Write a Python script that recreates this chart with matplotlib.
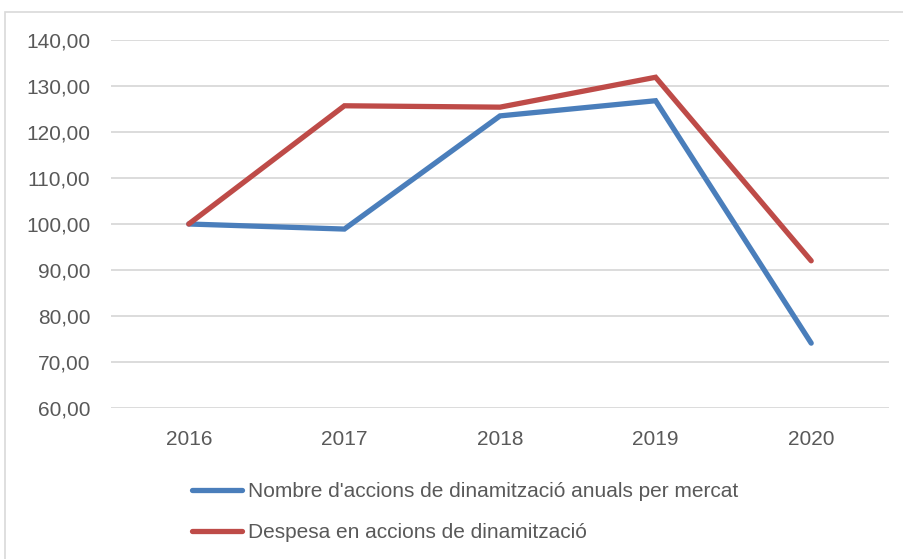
import matplotlib
matplotlib.use("Agg")
import matplotlib.pyplot as plt
from matplotlib.patches import Rectangle
from matplotlib.ticker import FuncFormatter

years = ["2016", "2017", "2018", "2019", "2020"]
accions = [100.0, 98.9, 123.5, 126.8, 74.1]
despesa = [100.0, 125.7, 125.4, 131.9, 92.0]
label_accions = "Nombre d'accions de dinamització anuals per mercat"
label_despesa = "Despesa en accions de dinamització"

W, H = 904, 559
fig = plt.figure(figsize=(W / 100, H / 100), dpi=100)
plt.rcParams['font.family'] = ['Liberation Sans', 'DejaVu Sans']
txt = '#595959'

# chart frame
fig.patches.append(Rectangle((5 / W, -0.1), 1.2, 1.1 - 12 / H, transform=fig.transFigure,
                             fill=False, edgecolor='#D9D9D9', linewidth=1.2))

ax = fig.add_axes([111 / W, 1 - 408 / H, (889 - 111) / W, (408 - 40) / H])
x = list(range(len(years)))
ax.plot(x, accions, color='#4A7EBB', lw=3.8, solid_capstyle='round', solid_joinstyle='miter',
        label=label_accions, zorder=3)
ax.plot(x, despesa, color='#BE4B48', lw=3.8, solid_capstyle='round', solid_joinstyle='miter',
        label=label_despesa, zorder=3)

ax.set_xlim(-0.5, len(years) - 0.5)
ax.set_ylim(60, 140)
ax.set_yticks(range(60, 141, 10))
ax.yaxis.set_major_formatter(FuncFormatter(lambda v, p: f"{v:.2f}".replace('.', ',')))
ax.set_xticks(x)
ax.set_xticklabels(years)
ax.grid(axis='y', color='#D9D9D9', lw=1.3)
ax.set_axisbelow(True)
for s in ax.spines.values():
    s.set_visible(False)
ax.tick_params(axis='both', length=0, labelsize=15, colors=txt)
ax.tick_params(axis='y', pad=15)
ax.tick_params(axis='x', pad=16)

leg = fig.legend(loc='upper left', bbox_to_anchor=(192 / W, 1 - 482 / H), ncol=1, frameon=False,
                 fontsize=15, handlelength=2.4, handletextpad=0.3, labelspacing=1.05,
                 borderaxespad=0, borderpad=0)
for t in leg.get_texts():
    t.set_color(txt)

fig.savefig("out.png", dpi=100)
